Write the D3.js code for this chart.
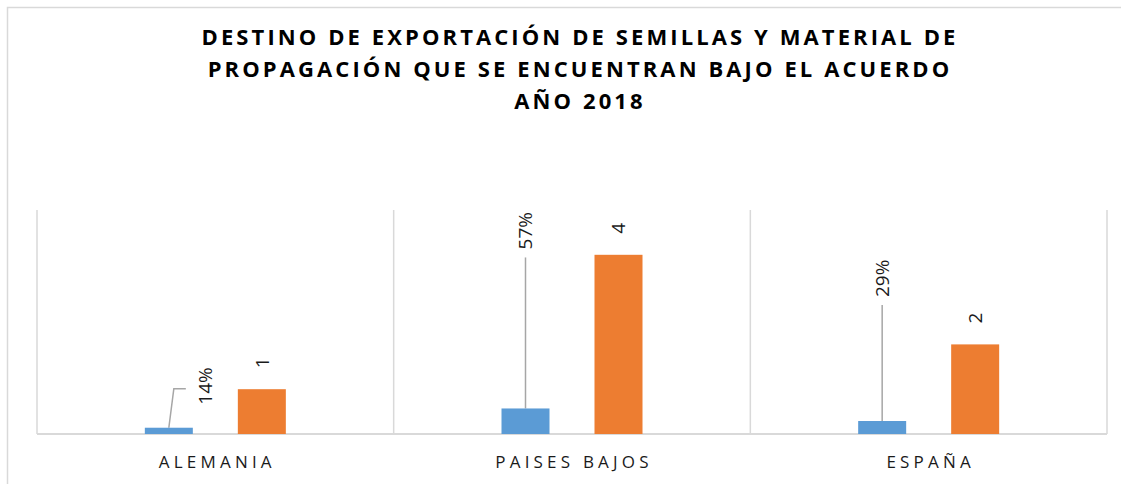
<!DOCTYPE html>
<html>
<head>
<meta charset="utf-8">
<script src="https://cdn.jsdelivr.net/npm/d3@7"></script>
<style>
  body { margin: 0; background: #fff; }
  svg { display: block; font-family: "Open Sans", sans-serif; }
</style>
</head>
<body>
<div id="viz"></div>
<script>
const width = 1121;
const height = 484;
const margin = {top: 210, right: 14, bottom: 50, left: 37};
const colorPct = '#5B9BD5';
const colorCount = '#ED7D31';
const gridColor = '#D9D9D9';

// data
const countries = ['ALEMANIA', 'PAISES BAJOS', 'ESPAÑA'];
const shares = [0.14, 0.57, 0.29];
const counts = [1, 4, 2];
const titleLines = [
  'DESTINO DE EXPORTACIÓN DE SEMILLAS Y MATERIAL DE',
  'PROPAGACIÓN QUE SE ENCUENTRAN BAJO EL ACUERDO',
  'AÑO 2018'
];

// manual placement of the % labels (moved by hand in the original)
const pctLabelShift = [{dx: 36, dy: -23}, {dx: 0, dy: -159}, {dx: 0, dy: -124}];

const rows = countries.map((c, i) => ({country: c, share: shares[i], count: counts[i], i: i}));

const svg = d3.select('#viz')
  .append('svg')
    .attr('width', width)
    .attr('height', height);

svg.append('rect')
  .attr('width', width).attr('height', height).attr('fill', '#fff');

// chart border
svg.append('path')
  .attr('d', `M7.5,${height} V7.5 H${width}`)
  .attr('fill', 'none')
  .attr('stroke', gridColor)
  .attr('stroke-width', 1.5);

// title
svg.append('text')
  .attr('text-anchor', 'middle')
  .attr('font-weight', 700)
  .attr('font-size', 22)
  .attr('letter-spacing', 3.1)
  .attr('fill', '#000')
  .selectAll('tspan')
  .data(titleLines)
  .join('tspan')
    .attr('x', 580)
    .attr('y', (d, i) => 45 + i * 32)
    .text(d => d);

const x0 = d3.scaleBand()
  .domain(countries)
  .range([margin.left, width - margin.right]);

const x1 = d3.scaleBand()
  .domain(['share', 'count'])
  .range([0, 141])
  .paddingInner(45 / 93);

const groupOffset = (x0.bandwidth() - 141) / 2;

const y = d3.scaleLinear()
  .domain([0, 5])
  .range([height - margin.bottom, margin.top]);

// vertical separators between categories
const edges = countries.map(c => x0(c)).concat([x0.range()[1]]);
svg.append('g')
  .selectAll('line')
  .data(edges)
  .join('line')
    .attr('x1', d => d).attr('x2', d => d)
    .attr('y1', y(5)).attr('y2', y(0))
    .attr('stroke', gridColor)
    .attr('stroke-width', 1.5);

// baseline
svg.append('line')
  .attr('x1', x0.range()[0]).attr('x2', x0.range()[1])
  .attr('y1', y(0)).attr('y2', y(0))
  .attr('stroke', gridColor)
  .attr('stroke-width', 2);

// category labels
svg.append('g')
  .selectAll('text')
  .data(countries)
  .join('text')
    .attr('x', d => x0(d) + x0.bandwidth() / 2 + 2)
    .attr('y', 468)
    .attr('text-anchor', 'middle')
    .attr('font-size', 17)
    .attr('letter-spacing', 4.2)
    .attr('fill', '#1a1a1a')
    .text(d => d);

const barX = (d, key) => x0(d.country) + groupOffset + x1(key);
const barCx = (d, key) => barX(d, key) + x1.bandwidth() / 2;

// leader lines for the % labels
svg.append('g')
  .selectAll('path')
  .data(rows)
  .join('path')
    .attr('fill', 'none')
    .attr('stroke', '#A6A6A6')
    .attr('stroke-width', 1.5)
    .attr('d', d => {
      const s = pctLabelShift[d.i];
      const cx = barCx(d, 'share');
      const top = y(d.share);
      if (s.dx !== 0) {
        const midY = top + s.dy - 16;
        return `M${cx},${top} L${cx + 5},${midY} L${cx + s.dx - 19},${midY}`;
      }
      return `M${cx},${top} V${top + s.dy + 8}`;
    });

// bars
svg.append('g')
  .selectAll('rect')
  .data(rows)
  .join('rect')
    .attr('x', d => barX(d, 'share'))
    .attr('y', d => y(d.share))
    .attr('width', x1.bandwidth())
    .attr('height', d => y(0) - y(d.share))
    .attr('fill', colorPct);

svg.append('g')
  .selectAll('rect')
  .data(rows)
  .join('rect')
    .attr('x', d => barX(d, 'count'))
    .attr('y', d => y(d.count))
    .attr('width', x1.bandwidth())
    .attr('height', d => y(0) - y(d.count))
    .attr('fill', colorCount);

// value labels (rotated)
const fmtPct = d3.format('.0%');

svg.append('g')
  .selectAll('text')
  .data(rows)
  .join('text')
    .attr('transform', d => {
      const s = pctLabelShift[d.i];
      return `translate(${barCx(d, 'share') + s.dx},${y(d.share) + s.dy}) rotate(-90)`;
    })
    .attr('dy', '0.36em')
    .attr('font-size', 19)
    .attr('fill', '#1a1a1a')
    .text(d => fmtPct(d.share));

svg.append('g')
  .selectAll('text')
  .data(rows)
  .join('text')
    .attr('transform', d => `translate(${barCx(d, 'count')},${y(d.count) - 21}) rotate(-90)`)
    .attr('dy', '0.36em')
    .attr('font-size', 19)
    .attr('fill', '#1a1a1a')
    .text(d => d.count);
</script>
</body>
</html>
